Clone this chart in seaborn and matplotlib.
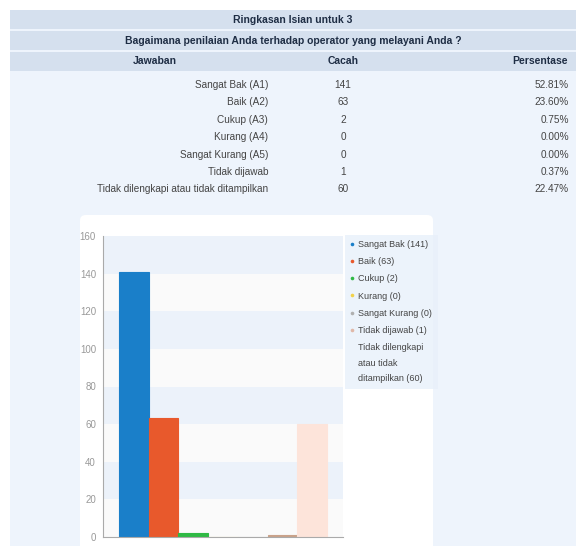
import matplotlib
matplotlib.use("Agg")
import matplotlib.pyplot as plt
from matplotlib.patches import Rectangle, FancyBboxPatch
from matplotlib.lines import Line2D
import seaborn as sns
import pandas as pd

# data
judul = "Ringkasan Isian untuk 3"
pertanyaan = "Bagaimana penilaian Anda terhadap operator yang melayani Anda ?"
kolom = ["Jawaban", "Cacah", "Persentase"]
jawaban = ["Sangat Bak (A1)", "Baik (A2)", "Cukup (A3)", "Kurang (A4)",
           "Sangat Kurang (A5)", "Tidak dijawab", "Tidak dilengkapi atau tidak ditampilkan"]
cacah = [141, 63, 2, 0, 0, 1, 60]
persentase = ["52.81%", "23.60%", "0.75%", "0.00%", "0.00%", "0.37%", "22.47%"]
legend_labels = ["Sangat Bak (141)", "Baik (63)", "Cukup (2)", "Kurang (0)",
                 "Sangat Kurang (0)", "Tidak dijawab (1)",
                 "Tidak dilengkapi\natau tidak\nditampilkan (60)"]
warna = ["#1a7fc9", "#e8592c", "#2fb944", "#f2e06a", "#cfcfcf", "#c9a28a", "#fde4da"]
legend_marker = ["#1a7fc9", "#e8592c", "#2fb944", "#f2d24a", "#b0b0b0", "#e0b8a8", "none"]

sns.set_style("white")
plt.rcParams["font.family"] = ["Liberation Sans", "DejaVu Sans"]

W, H = 576, 546
fig = plt.figure(figsize=(W / 100, H / 100), dpi=100)
fig.patch.set_facecolor("white")


def fx(px):
    return px / W


def fy(py):
    return 1 - py / H


def band(x0, y0, x1, y1, color):
    fig.patches.append(Rectangle((fx(x0), fy(y1)), fx(x1) - fx(x0), fy(y0) - fy(y1),
                                 transform=fig.transFigure, facecolor=color,
                                 edgecolor="none", zorder=-3))


# page / table backgrounds
band(10, 10, W, H, "#eef4fc")
band(10, 10, W, 29, "#d5e0ee")
band(10, 31, W, 50, "#d5e0ee")
band(10, 52, W, 71, "#d5e0ee")

hdr = dict(fontsize=7.5, fontweight="bold", color="#1e2d44", va="center")
fig.text(fx(293), fy(20), judul, ha="center", **hdr)
fig.text(fx(293), fy(40.5), pertanyaan, ha="center", **hdr)
fig.text(fx(155), fy(61.5), kolom[0], ha="center", **hdr)
fig.text(fx(343), fy(61.5), kolom[1], ha="center", **hdr)
fig.text(fx(540), fy(61.5), kolom[2], ha="center", **hdr)

tabel = pd.DataFrame({"jawaban": jawaban, "cacah": cacah, "persen": persentase})
row_txt = dict(fontsize=7.2, color="#444444", va="center")
for i, r in tabel.iterrows():
    y = fy(85 + i * 17.4)
    fig.text(fx(268), y, r["jawaban"], ha="right", **row_txt)
    fig.text(fx(343), y, str(r["cacah"]), ha="center", **row_txt)
    fig.text(fx(569), y, r["persen"], ha="right", **row_txt)

# chart card
fig.patches.append(FancyBboxPatch((fx(80), fy(H + 10)), fx(433) - fx(80), fy(215) - fy(H + 10),
                                  boxstyle="round,pad=0,rounding_size=0.01",
                                  transform=fig.transFigure, facecolor="white",
                                  edgecolor="none", zorder=-2))

ax = fig.add_axes([fx(103), fy(537), fx(343) - fx(103), fy(236) - fy(537)])
ax.set_zorder(1)
df = pd.DataFrame({"jawaban": jawaban, "cacah": cacah})
for k, lo in enumerate(range(0, 160, 20)):
    ax.axhspan(lo, lo + 20, facecolor="#ecf2fa" if k % 2 else "#fafafa",
               edgecolor="none", lw=0, zorder=0)
sns.barplot(data=df, x="jawaban", y="cacah", hue="jawaban", palette=warna,
            width=1.0, legend=False, ax=ax, saturation=1, zorder=2)
bars = [p for cont in ax.containers for p in cont]
for p, c in zip(bars, warna):
    p.set_edgecolor(c)
    p.set_linewidth(0.8)

ax.set_xlim(-1.04, 7.04)
ax.set_ylim(0, 160)
ax.set_yticks(range(0, 161, 20))
ax.set_xticks([])
ax.set_xlabel("")
ax.set_ylabel("")
ax.tick_params(axis="y", labelsize=7, colors="#999999", length=3, width=0.6, pad=2)
for s in ["top", "right"]:
    ax.spines[s].set_visible(False)
for s in ["left", "bottom"]:
    ax.spines[s].set_color("#aaaaaa")
    ax.spines[s].set_linewidth(0.8)
ax.set_facecolor("white")

handles = [Line2D([], [], marker="o", linestyle="none", markersize=2.6,
                  markerfacecolor=c, markeredgecolor="none") for c in legend_marker]
leg = ax.legend(handles, legend_labels, loc="upper left", bbox_to_anchor=(1.0, 1.01),
                frameon=True, fontsize=6.5, handlelength=0.5, handletextpad=0.4,
                labelspacing=0.9, borderpad=0.6, borderaxespad=0.2, fancybox=False,
                labelcolor="#444444")
leg.get_texts()[-1].set_linespacing(1.95)
leg.get_frame().set_facecolor("#e8f0fa")
leg.get_frame().set_edgecolor("none")

fig.savefig("out.png", dpi=100, facecolor="white")
